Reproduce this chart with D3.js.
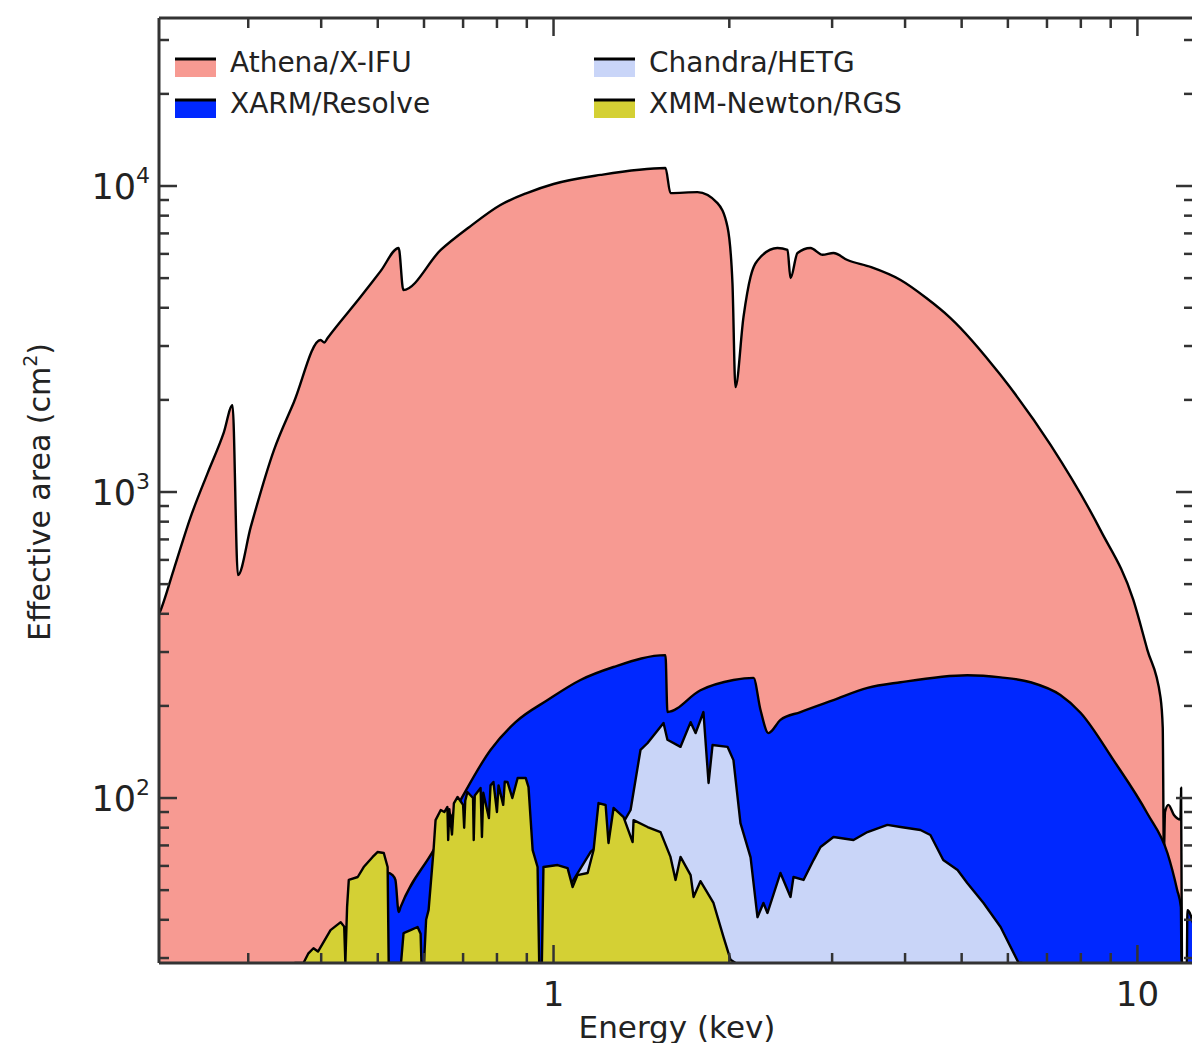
<!DOCTYPE html>
<html lang="en">
<head>
<meta charset="UTF-8">
<title>Effective area</title>
<script src="https://d3js.org/d3.v7.min.js"></script>
<style>
  body { margin: 0; background: #fff; }
  svg { display: block; }
  text { font-family: "DejaVu Sans", sans-serif; fill: #222; }
</style>
</head>
<body>
<div id="chart"></div>
<script>
// Athena/X-IFU
var athenaE = [0.205, 0.2115, 0.2235, 0.239, 0.2556, 0.2723, 0.282, 0.288, 0.303, 0.332, 0.3587, 0.399, 0.405, 0.410,
  0.467, 0.5056, 0.543, 0.553, 0.641, 0.721, 0.811, 0.90, 1.0, 1.204, 1.555, 1.586, 1.764, 1.909, 1.986, 2.025, 2.049,
  2.115, 2.175, 2.262, 2.418, 2.516, 2.546, 2.617, 2.754, 2.888, 3.016, 3.187, 3.5, 3.93, 4.35, 4.78, 5.83,
  7.10, 8.64, 9.84, 10.4, 10.95, 11.05, 11.10, 11.15, 11.3, 11.55, 11.85, 11.88, 11.92];
var athenaA = [360, 403, 556, 828, 1153, 1560, 1923, 535, 769, 1371, 1954, 3140, 3080, 3180,
  4335, 5270, 6270, 4575, 6180, 7396, 8670, 9480, 10150, 10870, 11450, 9480, 9550, 8790, 7340, 4820, 2203,
  3730, 5050, 5860, 6270, 6180, 5000, 6040, 6270, 5960, 6040, 5730, 5430, 4930, 4305, 3710, 2410,
  1425, 752, 444, 305, 214, 170, 66, 90, 95, 88, 85, 108, 20];

// XARM/Resolve
var xarmE = [0.515, 0.520, 0.530, 0.536, 0.543, 0.547, 0.623, 0.693, 0.78, 0.861, 0.977, 1.112, 1.267, 1.555, 1.567,
  1.785, 2.033, 2.2, 2.262, 2.334, 2.447, 2.648, 3.016, 3.449, 3.93, 5.115, 5.83, 6.56, 7.38,
  7.99, 9.1, 10.4, 11.26, 11.7, 11.87, 11.9, 12.15, 12.18, 12.5];
var xarmA = [20, 57, 56, 54, 42.4, 44, 67.6, 98.5, 143.6, 177, 209, 243, 268, 293, 191,
  225, 243, 247, 194, 163, 180, 191, 209, 229, 239, 252, 248, 239, 217,
  190, 133, 89, 66, 50, 44, 20, 20, 43, 38];

// Chandra/HETG
var hetgE = [1.0, 1.028, 1.157, 1.302, 1.355, 1.409, 1.448, 1.543, 1.567, 1.650, 1.717, 1.751, 1.806,
  1.843, 1.872, 1.986, 2.033, 2.09, 2.175, 2.235, 2.288, 2.325, 2.447, 2.546, 2.576, 2.68, 2.788,
  2.866, 3.016, 3.264, 3.449, 3.73, 3.93, 4.25, 4.42, 4.65, 4.92, 5.115, 5.45, 5.83, 6.26, 6.35];
var hetgA = [20, 46, 66.6, 80, 91.4, 143.6, 151, 176, 155, 147, 177, 163, 191,
  112, 149, 147, 133, 82.8, 64, 40.8, 45.4, 42.1, 56.9, 47.5, 55.2, 54, 62.7,
  69.2, 74.6, 72.9, 77.4, 81.7, 80.4, 78.6, 75.7, 62.7, 58.2, 52.7, 45.4, 37.9, 28.9, 20];

// XMM-Newton/RGS
var rgsE = [0.360, 0.373, 0.380, 0.388, 0.395, 0.415, 0.432, 0.438, 0.440, 0.443, 0.446, 0.462, 0.473,
  0.490, 0.4995, 0.512, 0.5198, 0.522, 0.545, 0.548, 0.5535, 0.569, 0.585, 0.592, 0.594, 0.600, 0.605,
  0.611, 0.623, 0.628, 0.641, 0.650, 0.658, 0.660, 0.663, 0.670, 0.675, 0.685, 0.700, 0.703, 0.706, 0.712, 0.728,
  0.730, 0.733, 0.750, 0.754, 0.758, 0.775, 0.780, 0.789, 0.800, 0.805, 0.820, 0.825, 0.834, 0.850, 0.868, 0.896, 0.906, 0.921,
  0.939, 0.945, 0.955, 0.961, 1.016, 1.057, 1.078, 1.099, 1.144, 1.171, 1.194, 1.228, 1.242, 1.267,
  1.318, 1.366, 1.371, 1.449, 1.525, 1.586, 1.618, 1.650, 1.717, 1.737, 1.785, 1.879, 1.955, 2.010, 2.05];
var rgsA = [20, 28.9, 31, 32.3, 31.5, 37.0, 39.3, 38, 20, 44, 54, 55.2, 59.5,
  64.2, 66.6, 66.1, 59.5, 20, 20, 28.9, 36.2, 37.0, 37.9, 36, 20, 20, 40,
  43.1, 67.6, 84.7, 91.4, 90, 93.5, 72.9, 92, 76, 96, 100.8, 95, 80, 98, 104.6, 100,
  72.9, 102, 107.8, 74.6, 104, 86, 110, 112.8, 90, 110, 95, 113, 112.8, 100, 116.3, 116.3, 108.6, 67.6,
  59.5, 20, 20, 59.5, 60.4, 59.0, 51.2, 56.0, 56.9, 67.6, 96.3, 94.9, 71.3, 92.8,
  86.6, 71.8, 84.7, 80.4, 77.4, 64.2, 54.0, 64.2, 56.0, 47.5, 53.5, 45.4, 35.1, 29.6, 20];

var seriesNames = ["Athena/X-IFU", "XARM/Resolve", "Chandra/HETG", "XMM-Newton/RGS"];
var seriesColors = ["#f79a92", "#0028ff", "#c9d5f8", "#d4d034"];
var xTickLabels = ["1", "10"];
var yTickLabels = ["2", "3", "4"];

var width = 1192, height = 1043;
var mLeft = 159, mRight = 1194, mTop = 18, mBottom = 963;

var x = d3.scaleLog().domain([0.211, 12.5]).range([mLeft, mRight]);
var y = d3.scaleLog().domain([28.9, 35400]).range([mBottom, mTop]).clamp(true);

var svg = d3.select("#chart").append("svg")
  .attr("width", width).attr("height", height);

svg.append("clipPath").attr("id", "plot")
  .append("rect").attr("x", mLeft).attr("y", mTop)
  .attr("width", mRight - mLeft).attr("height", mBottom - mTop);

var g = svg.append("g").attr("clip-path", "url(#plot)");

var series = [[athenaE, athenaA], [xarmE, xarmA], [hetgE, hetgA], [rgsE, rgsA]];
// smooth instrument responses get a monotone curve, the grating ones stay jagged
var curves = [d3.curveMonotoneX, d3.curveMonotoneX, d3.curveLinear, d3.curveLinear];

series.forEach(function(s, i) {
  var pts = s[0].map(function(e, j) { return [e, s[1][j]]; });
  var area = d3.area()
    .curve(curves[i])
    .x(function(d) { return x(d[0]); })
    .y0(mBottom + 5)
    .y1(function(d) { return y(d[1]); });
  var line = d3.line()
    .curve(curves[i])
    .x(function(d) { return x(d[0]); })
    .y(function(d) { return y(d[1]); });
  g.append("path").attr("d", area(pts))
    .attr("fill", seriesColors[i]).attr("stroke", "none");
  g.append("path").attr("d", line(pts))
    .attr("fill", "none").attr("stroke", "#000")
    .attr("stroke-width", 2.4).attr("stroke-linejoin", "round");
});

// frame
var frame = svg.append("g").attr("stroke", "#333").attr("stroke-width", 3);
frame.append("line").attr("x1", mLeft).attr("x2", mRight).attr("y1", mTop).attr("y2", mTop);
frame.append("line").attr("x1", mLeft).attr("x2", mRight).attr("y1", mBottom).attr("y2", mBottom);
frame.append("line").attr("x1", mLeft).attr("x2", mLeft).attr("y1", mTop).attr("y2", mBottom);
frame.append("line").attr("x1", mRight).attr("x2", mRight).attr("y1", mTop).attr("y2", mBottom);

function isMajor(v) {
  var l = Math.log10(v);
  return Math.abs(l - Math.round(l)) < 1e-6;
}

var ticks = svg.append("g").attr("stroke", "#333").attr("stroke-width", 2.5);
x.ticks().forEach(function(v) {
  var px = x(v), len = isMajor(v) ? 18 : 10;
  ticks.append("line").attr("x1", px).attr("x2", px).attr("y1", mTop).attr("y2", mTop + len);
  ticks.append("line").attr("x1", px).attr("x2", px).attr("y1", mBottom).attr("y2", mBottom - len);
});
y.ticks().forEach(function(v) {
  var py = y(v), len = isMajor(v) ? 18 : 10;
  ticks.append("line").attr("x1", mLeft).attr("x2", mLeft + len).attr("y1", py).attr("y2", py);
  ticks.append("line").attr("x1", mRight).attr("x2", mRight - len).attr("y1", py).attr("y2", py);
});

// tick labels
[1, 10].forEach(function(v, i) {
  svg.append("text").attr("x", x(v)).attr("y", 1006)
    .attr("text-anchor", "middle").attr("font-size", 34)
    .text(xTickLabels[i]);
});
[100, 1000, 10000].forEach(function(v, i) {
  var t = svg.append("text").attr("x", 150).attr("y", y(v) + 13)
    .attr("text-anchor", "end").attr("font-size", 35);
  t.append("tspan").text("10");
  t.append("tspan").attr("font-size", 22).attr("dy", -16).text(yTickLabels[i]);
});

// axis titles
svg.append("text").attr("x", 677).attr("y", 1038)
  .attr("text-anchor", "middle").attr("font-size", 31)
  .text("Energy (kev)");
var yt = svg.append("text")
  .attr("transform", "translate(50,492) rotate(-90)")
  .attr("text-anchor", "middle").attr("font-size", 30);
yt.append("tspan").text("Effective area (cm");
yt.append("tspan").attr("font-size", 19).attr("dy", -13).text("2");
yt.append("tspan").attr("dy", 13).text(")");

// legend
var legendX = [175, 175, 594, 594];
var legendY = [58, 99, 58, 99];
seriesNames.forEach(function(name, i) {
  var lg = svg.append("g").attr("transform", "translate(" + legendX[i] + "," + legendY[i] + ")");
  lg.append("rect").attr("x", 0).attr("y", 1).attr("width", 41).attr("height", 18)
    .attr("fill", seriesColors[i]);
  lg.append("line").attr("x1", 0).attr("x2", 41).attr("y1", 1).attr("y2", 1)
    .attr("stroke", "#000").attr("stroke-width", 3);
  lg.append("text").attr("x", 55).attr("y", 14).attr("font-size", 28).text(name);
});
</script>
</body>
</html>
